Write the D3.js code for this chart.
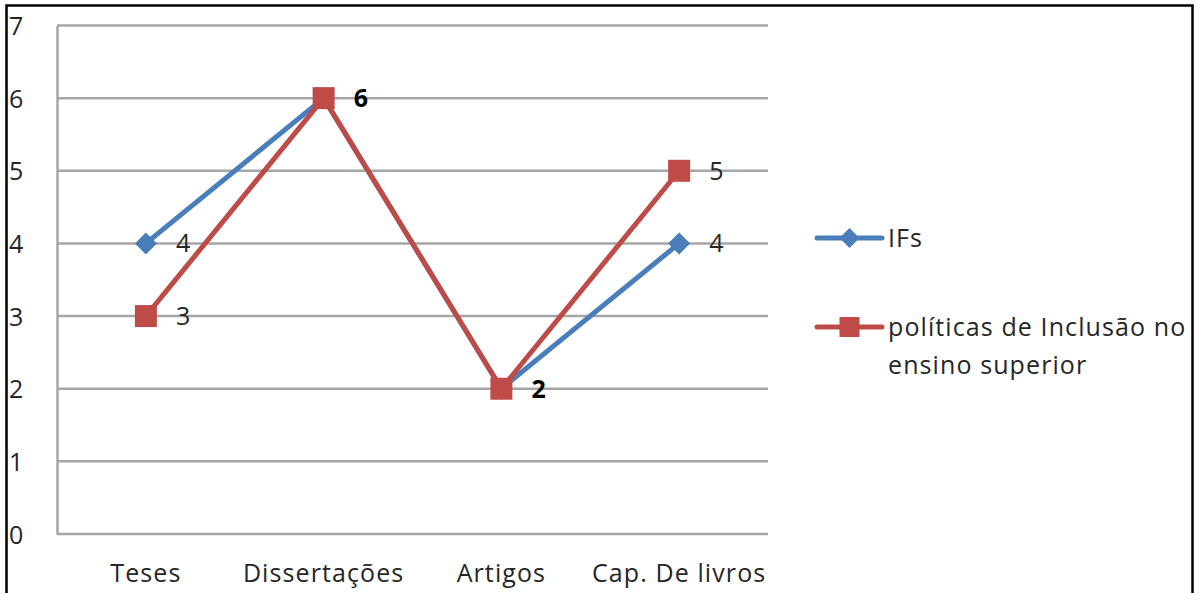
<!DOCTYPE html>
<html>
<head>
<meta charset="utf-8">
<script src="https://cdn.jsdelivr.net/npm/d3@7"></script>
<style>
  html, body { margin: 0; padding: 0; background: #fff; }
  svg { display: block; }
</style>
</head>
<body>
<svg id="chart" width="1198" height="593"></svg>
<script>
// Publication counts by type
const categories = ["Teses", "Dissertações", "Artigos", "Cap. De livros"];
const ifsValues = [4, 6, 2, 4];
const politicasValues = [3, 6, 2, 5];
const seriesNames = ["IFs", "políticas de Inclusão no ensino superior"];
const yTicks = [0, 1, 2, 3, 4, 5, 6, 7];

const svg = d3.select("#chart");
const font = "'Open Sans', 'Noto Sans', sans-serif";
const fontSize = "25px";
const spacing = "1.1px";
const textColor = "#262626";
const blue = "#4a7ebb", red = "#be4b48";

function styleText(sel) {
  return sel.attr("fill", textColor).style("font-family", font)
    .style("font-size", fontSize).style("letter-spacing", spacing);
}

// Outer frame
svg.append("rect").attr("x", 6.5).attr("y", 5.5).attr("width", 1186).attr("height", 600)
  .attr("fill", "none").attr("stroke", "#000").attr("stroke-width", 2.5);

const plot = { left: 57, right: 768, top: 25.5, bottom: 534 };

const x = d3.scaleBand().domain(categories).range([plot.left, plot.right]);
const y = d3.scaleLinear().domain([0, 7]).range([plot.bottom, plot.top]);

// Left axis line and tick labels
const yAxis = d3.axisLeft(y).tickValues(yTicks).tickSize(0).tickFormat(d3.format("d"));
const gy = svg.append("g").attr("transform", `translate(${plot.left},0)`).call(yAxis);
gy.select(".domain").attr("stroke", "#a6a6a6").attr("stroke-width", 2.5);
gy.selectAll(".tick line").remove();
styleText(gy.selectAll(".tick text")
  .attr("x", 9 - plot.left).attr("text-anchor", "start").attr("dy", "0.36em"));

// Horizontal gridlines
svg.append("g").selectAll("line").data(yTicks).join("line")
  .attr("x1", plot.left).attr("x2", plot.right)
  .attr("y1", d => y(d)).attr("y2", d => y(d))
  .attr("stroke", "#a6a6a6").attr("stroke-width", 2.5);

// Category axis labels
const xAxis = d3.axisBottom(x).tickSize(0).tickPadding(0);
const gx = svg.append("g").attr("transform", `translate(0,${plot.bottom})`).call(xAxis);
gx.select(".domain").remove();
styleText(gx.selectAll(".tick text").attr("y", 48).attr("dy", 0));

const cx = c => x(c) + x.bandwidth() / 2;
const line = d3.line().x((d, i) => cx(categories[i])).y(d => y(d));

// IFs series
svg.append("path").datum(ifsValues).attr("d", line)
  .attr("fill", "none").attr("stroke", blue).attr("stroke-width", 5).attr("stroke-linejoin", "round");
svg.append("g").selectAll("path").data(ifsValues).join("path")
  .attr("transform", (d, i) => `translate(${cx(categories[i])},${y(d)})`)
  .attr("d", "M0,-11L11,0L0,11L-11,0Z").attr("fill", blue);

// políticas series
svg.append("path").datum(politicasValues).attr("d", line)
  .attr("fill", "none").attr("stroke", red).attr("stroke-width", 5).attr("stroke-linejoin", "round");
svg.append("g").selectAll("rect").data(politicasValues).join("rect")
  .attr("x", (d, i) => cx(categories[i]) - 11).attr("y", d => y(d) - 11)
  .attr("width", 22).attr("height", 22).attr("fill", red);

// Value labels; where both series share a value the label is emphasised
const labels = [];
categories.forEach((c, i) => {
  const same = ifsValues[i] === politicasValues[i];
  labels.push({ c, v: ifsValues[i], bold: same });
  if (!same) labels.push({ c, v: politicasValues[i], bold: false });
});
styleText(svg.append("g").selectAll("text").data(labels).join("text")
  .attr("x", d => cx(d.c) + 30).attr("y", d => y(d.v)).attr("dy", "0.36em"))
  .attr("fill", d => d.bold ? "#000" : textColor)
  .style("font-weight", d => d.bold ? "bold" : "normal")
  .text(d => d.v);

// Legend
const legend = svg.append("g");
const lgX1 = 817, lgX2 = 882, lgText = 888;
const lgBlueY = 238, lgRedY = 327;
legend.append("line").attr("x1", lgX1).attr("x2", lgX2).attr("y1", lgBlueY).attr("y2", lgBlueY)
  .attr("stroke", blue).attr("stroke-width", 5).attr("stroke-linecap", "round");
legend.append("path").attr("transform", `translate(${(lgX1 + lgX2) / 2},${lgBlueY})`)
  .attr("d", "M0,-10L10,0L0,10L-10,0Z").attr("fill", blue);
styleText(legend.append("text").attr("x", lgText).attr("y", lgBlueY).attr("dy", "0.36em"))
  .text(seriesNames[0]);

legend.append("line").attr("x1", lgX1).attr("x2", lgX2).attr("y1", lgRedY).attr("y2", lgRedY)
  .attr("stroke", red).attr("stroke-width", 5).attr("stroke-linecap", "round");
legend.append("rect").attr("x", (lgX1 + lgX2) / 2 - 10).attr("y", lgRedY - 10)
  .attr("width", 20).attr("height", 20).attr("fill", red);
const lt = styleText(legend.append("text"));
lt.append("tspan").attr("x", lgText).attr("y", lgRedY).attr("dy", "0.36em").text("políticas de Inclusão no");
lt.append("tspan").attr("x", lgText).attr("y", lgRedY + 38).attr("dy", "0.36em").text("ensino superior");
</script>
</body>
</html>
